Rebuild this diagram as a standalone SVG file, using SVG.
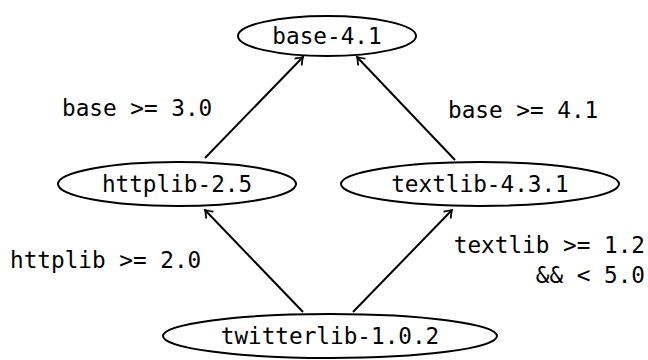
<svg xmlns="http://www.w3.org/2000/svg" width="648" height="360" viewBox="0 0 648 360">
<style>
.node ellipse{fill:#fff;stroke:#000;stroke-width:2}
text{font-family:"DejaVu Sans Mono",monospace;font-size:22.7px;fill:#000}
.c line{stroke:#000;stroke-width:2;marker-end:url(#a)}
</style>
<defs>
<marker id="a" viewBox="-10 -6 12 12" refX="0" refY="0" markerWidth="12" markerHeight="12" markerUnits="userSpaceOnUse" orient="auto">
<path d="M-7,-5 Q-2,-1 0,0 Q-2,1 -7,5" fill="none" stroke="#000" stroke-width="1.8"/>
</marker>
</defs>
<rect width="648" height="360" fill="#fff"/>
<g class="c">
<line x1="205" y1="158" x2="303" y2="57"/>
<line x1="455" y1="160" x2="357" y2="57"/>
<line x1="303" y1="312" x2="205" y2="210"/>
<line x1="353" y1="312" x2="452" y2="210"/>
</g>
<g id="base" class="node"><ellipse cx="327" cy="36" rx="89" ry="20"/><text x="327" y="44" text-anchor="middle">base-4.1</text></g>
<g id="httplib" class="node"><ellipse cx="177" cy="184" rx="119" ry="22"/><text x="177" y="192" text-anchor="middle">httplib-2.5</text></g>
<g id="textlib" class="node"><ellipse cx="480" cy="184" rx="139" ry="22"/><text x="480" y="192" text-anchor="middle">textlib-4.3.1</text></g>
<g id="twitterlib" class="node"><ellipse cx="330" cy="336" rx="167" ry="22"/><text x="330" y="344" text-anchor="middle">twitterlib-1.0.2</text></g>
<g id="labels">
<text x="62" y="116">base &gt;= 3.0</text>
<text x="448" y="118">base &gt;= 4.1</text>
<text x="10" y="268">httplib &gt;= 2.0</text>
<text x="645" y="253" text-anchor="end">textlib &gt;= 1.2</text>
<text x="645" y="283" text-anchor="end">&amp;&amp; &lt; 5.0</text>
</g>
</svg>
